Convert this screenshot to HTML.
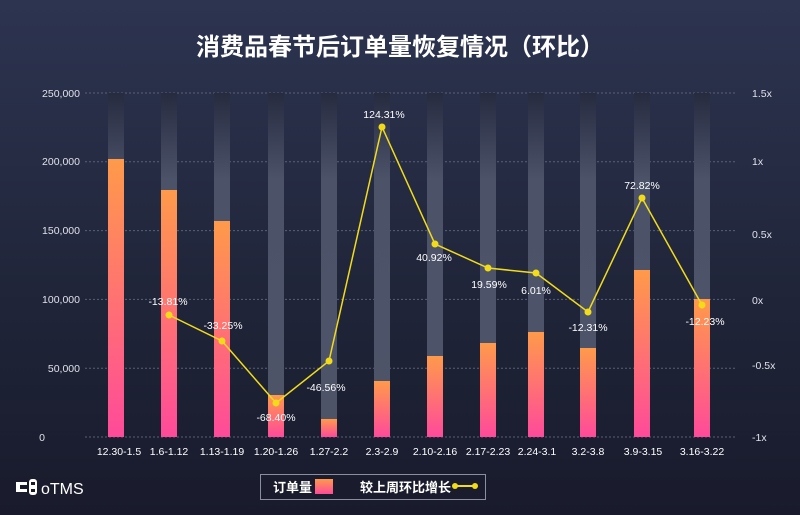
<!DOCTYPE html>
<html><head><meta charset="utf-8"><style>
body{margin:0;width:800px;height:515px;overflow:hidden;background:linear-gradient(#2d3450,#1f2438 60%,#191b2c);font-family:"Liberation Sans","Noto Sans CJK SC",sans-serif}
</style></head><body>
<svg width="800" height="515" xmlns="http://www.w3.org/2000/svg" style="position:absolute;left:0;top:0">
<defs>
<linearGradient id="bg" x1="0" y1="0" x2="0" y2="1"><stop offset="0" stop-color="#262b40"/><stop offset="0.25" stop-color="#4c5268"/><stop offset="1" stop-color="#4e5468"/></linearGradient>
<linearGradient id="fg" x1="0" y1="0" x2="0" y2="1"><stop offset="0" stop-color="#ff9a4a"/><stop offset="1" stop-color="#ff4a9a"/></linearGradient>
</defs>
<text x="400" y="55" fill="#fff" font-size="24" font-weight="bold" text-anchor="middle">消费品春节后订单量恢复情况（环比）</text>
<g stroke="#5a6078" stroke-dasharray="2,2" stroke-width="1">
<line x1="85" y1="93" x2="735" y2="93"/><line x1="85" y1="161.8" x2="735" y2="161.8"/><line x1="85" y1="230.6" x2="735" y2="230.6"/><line x1="85" y1="299.4" x2="735" y2="299.4"/><line x1="85" y1="368.2" x2="735" y2="368.2"/><line x1="85" y1="437" x2="735" y2="437"/>
</g>
<g fill="#e0e2ea" font-size="10.5" text-anchor="end">
<text x="80" y="97">250,000</text><text x="80" y="165">200,000</text><text x="80" y="234">150,000</text><text x="80" y="303">100,000</text><text x="80" y="372">50,000</text><text x="45" y="441">0</text>
</g>
<g fill="#e0e2ea" font-size="10.5">
<text x="752" y="97">1.5x</text><text x="752" y="165">1x</text><text x="752" y="238">0.5x</text><text x="752" y="304">0x</text><text x="752" y="369">-0.5x</text><text x="752" y="441">-1x</text>
</g>
<g fill="url(#bg)">
<rect x="108" y="93" width="16" height="344"/><rect x="161" y="93" width="16" height="344"/><rect x="214" y="93" width="16" height="344"/><rect x="268" y="93" width="16" height="344"/><rect x="321" y="93" width="16" height="344"/><rect x="374" y="93" width="16" height="344"/><rect x="427" y="93" width="16" height="344"/><rect x="480" y="93" width="16" height="344"/><rect x="528" y="93" width="16" height="344"/><rect x="580" y="93" width="16" height="344"/><rect x="634" y="93" width="16" height="344"/><rect x="694" y="93" width="16" height="344"/>
</g>
<g fill="url(#fg)">
<rect x="108" y="159" width="16" height="278"/><rect x="161" y="190" width="16" height="247"/><rect x="214" y="221" width="16" height="216"/><rect x="268" y="395" width="16" height="42"/><rect x="321" y="419" width="16" height="18"/><rect x="374" y="381" width="16" height="56"/><rect x="427" y="356" width="16" height="81"/><rect x="480" y="343" width="16" height="94"/><rect x="528" y="332" width="16" height="105"/><rect x="580" y="348" width="16" height="89"/><rect x="634" y="270" width="16" height="167"/><rect x="694" y="299" width="16" height="138"/>
</g>
<polyline fill="none" stroke="#f2dc1a" stroke-width="1.5" points="169,315 222,341 276,403 329,361 382,127 435,244 488,268 536,273 588,312 642,198 702,305"/>
<g fill="#f2dc1a">
<circle cx="169" cy="315" r="3.5"/><circle cx="222" cy="341" r="3.5"/><circle cx="276" cy="403" r="3.5"/><circle cx="329" cy="361" r="3.5"/><circle cx="382" cy="127" r="3.5"/><circle cx="435" cy="244" r="3.5"/><circle cx="488" cy="268" r="3.5"/><circle cx="536" cy="273" r="3.5"/><circle cx="588" cy="312" r="3.5"/><circle cx="642" cy="198" r="3.5"/><circle cx="702" cy="305" r="3.5"/>
</g>
<g fill="#fff" font-size="10.5" text-anchor="middle">
<text x="168" y="305">-13.81%</text><text x="223" y="329">-33.25%</text><text x="276" y="421">-68.40%</text><text x="326" y="391">-46.56%</text><text x="384" y="118">124.31%</text><text x="434" y="261">40.92%</text><text x="489" y="288">19.59%</text><text x="536" y="294">6.01%</text><text x="588" y="331">-12.31%</text><text x="642" y="189">72.82%</text><text x="705" y="325">-12.23%</text>
</g>
<g fill="#fff" font-size="10.5" text-anchor="middle">
<text x="119" y="455">12.30-1.5</text><text x="169" y="455">1.6-1.12</text><text x="222" y="455">1.13-1.19</text><text x="276" y="455">1.20-1.26</text><text x="329" y="455">1.27-2.2</text><text x="382" y="455">2.3-2.9</text><text x="435" y="455">2.10-2.16</text><text x="488" y="455">2.17-2.23</text><text x="537" y="455">2.24-3.1</text><text x="588" y="455">3.2-3.8</text><text x="643" y="455">3.9-3.15</text><text x="702" y="455">3.16-3.22</text>
</g>
<rect x="260.5" y="474.5" width="225" height="25" fill="none" stroke="#8a8ea0" stroke-width="1"/>
<text x="273" y="492" fill="#fff" font-size="13" font-weight="bold">订单量</text>
<rect x="315" y="479" width="18" height="15" fill="url(#fg)"/>
<text x="360" y="492" fill="#fff" font-size="13" font-weight="bold">较上周环比增长</text>
<line x1="455" y1="486" x2="475" y2="486" stroke="#f2dc1a" stroke-width="2"/>
<circle cx="455" cy="486" r="3" fill="#f2dc1a"/><circle cx="475" cy="486" r="3" fill="#f2dc1a"/>
<rect x="16" y="482" width="11" height="10" fill="#fff"/><rect x="20" y="485" width="7" height="4" fill="#191b2c"/>
<rect x="29" y="479" width="8" height="16" rx="3" fill="#fff"/><rect x="31" y="482" width="4" height="3" fill="#191b2c"/><rect x="31" y="489" width="4" height="3" fill="#191b2c"/>
<text x="41" y="494" fill="#fff" font-size="16">oTMS</text>
</svg>
</body></html>
